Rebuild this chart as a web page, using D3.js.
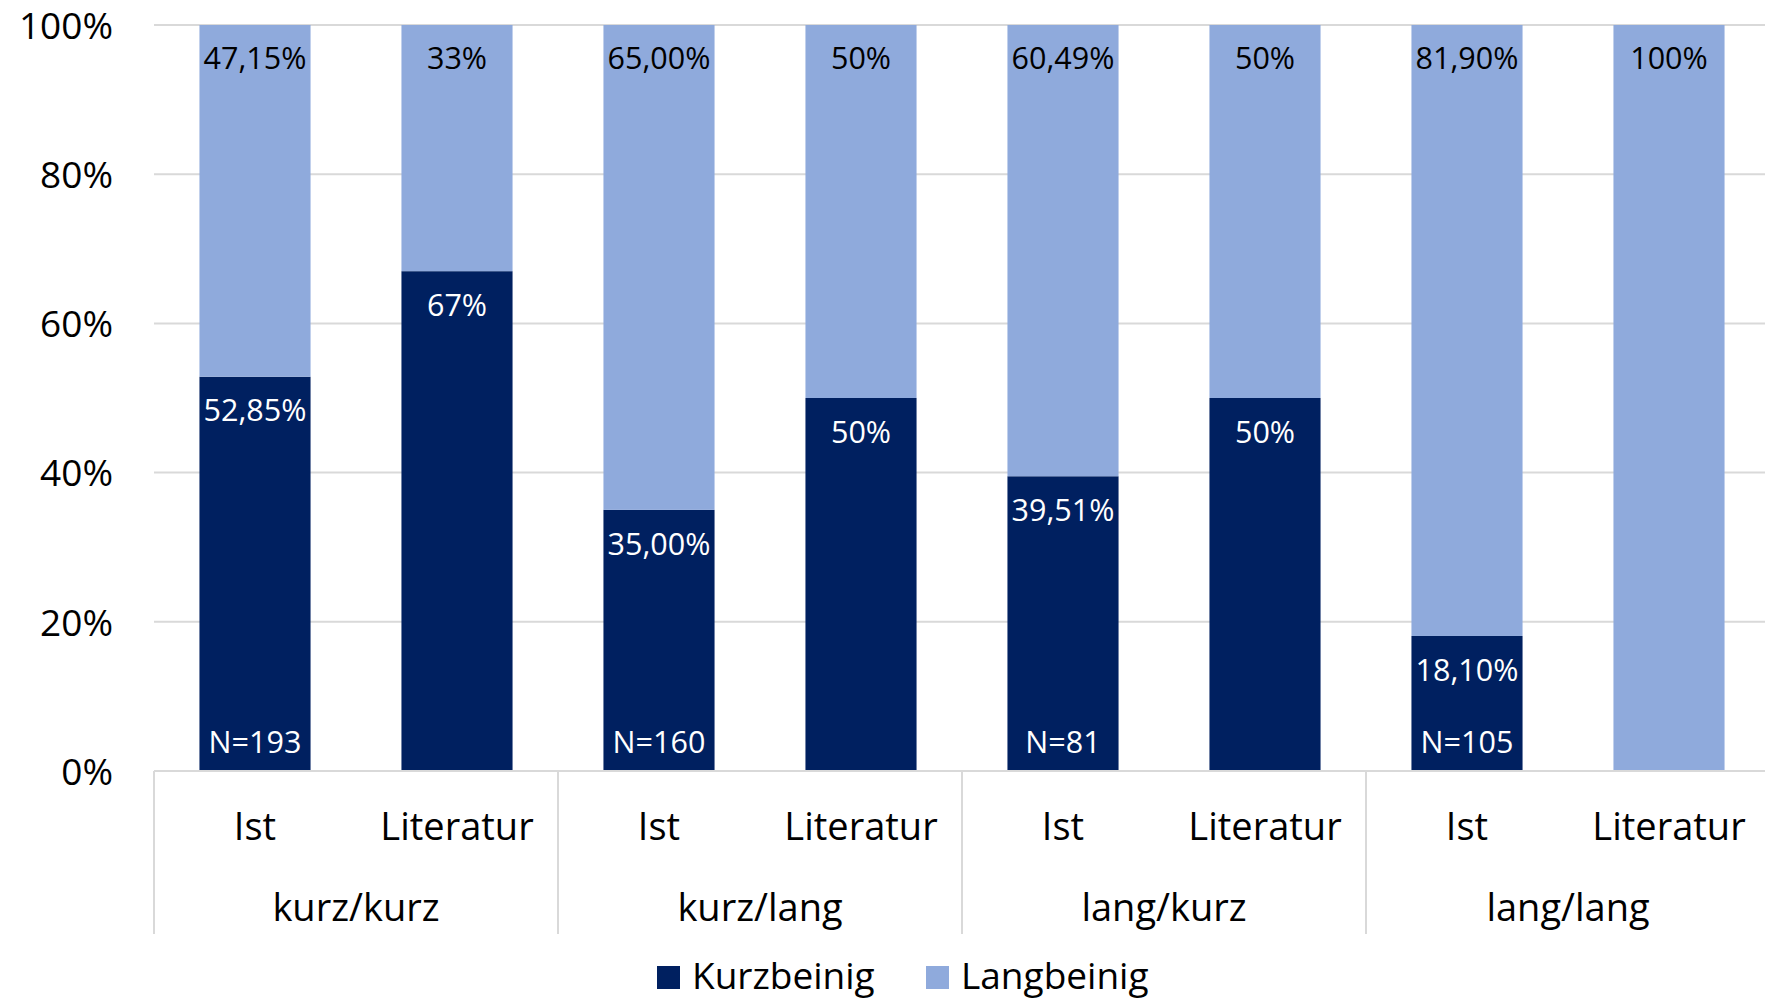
<!DOCTYPE html>
<html>
<head>
<meta charset="utf-8">
<script src="https://cdn.jsdelivr.net/npm/d3@7"></script>
<style>
  body { margin: 0; background: #fff; }
  svg { display: block; font-family: "Open Sans", sans-serif; }
</style>
</head>
<body>
<svg width="1765" height="1001"></svg>
<script>
// data
var groups = ["kurz/kurz", "kurz/lang", "lang/kurz", "lang/lang"]
var subs = ["Ist", "Literatur"]
var kurz = [52.85, 67, 35, 50, 39.51, 50, 18.10, 0]
var lang = [47.15, 33, 65, 50, 60.49, 50, 81.90, 100]
var kurzLabels = ["52,85%", "67%", "35,00%", "50%", "39,51%", "50%", "18,10%", ""]
var langLabels = ["47,15%", "33%", "65,00%", "50%", "60,49%", "50%", "81,90%", "100%"]
var nLabels = ["N=193", "", "N=160", "", "N=81", "", "N=105", ""]
var yTicks = [0, 20, 40, 60, 80, 100]

var darkBlue = "#002060"
var lightBlue = "#8faadc"
var gridColor = "#d9d9d9"

var plot = { left: 154, right: 1770, top: 25, bottom: 771 }

var svg = d3.select("svg")

// scales
var x0 = d3.scaleBand().domain(groups).range([plot.left, plot.right])
var x1 = d3.scaleBand().domain(subs).range([0, x0.bandwidth()]).paddingInner(0.45).paddingOuter(0.225)
var y = d3.scaleLinear().domain([0, 100]).range([plot.bottom, plot.top])

// build rows
var rows = []
groups.forEach(function(g, gi) {
    subs.forEach(function(s, si) {
        var i = gi * 2 + si
        rows.push({ g: g, s: s, kurz: kurz[i], lang: lang[i],
            kl: kurzLabels[i], ll: langLabels[i], n: nLabels[i] })
    })
})

// gridlines
svg.append("g")
    .selectAll("line")
    .data(yTicks)
    .enter().append("line")
    .attr("x1", plot.left)
    .attr("x2", plot.right)
    .attr("y1", function(d) { return y(d) })
    .attr("y2", function(d) { return y(d) })
    .attr("stroke", gridColor)
    .attr("stroke-width", 2)

// y axis labels
var yAxis = d3.axisLeft(y)
    .tickValues(yTicks)
    .tickSize(0)
    .tickPadding(0)
    .tickFormat(function(d) { return d + "%" })

var ya = svg.append("g")
    .attr("transform", "translate(113,0)")
    .call(yAxis)
ya.select(".domain").remove()
ya.selectAll("text")
    .attr("font-family", "Open Sans, sans-serif")
    .attr("font-size", 37)
    .attr("dy", "0.36em")
    .attr("fill", "#000")

// bars
var bars = svg.append("g")
    .selectAll("g")
    .data(rows)
    .enter().append("g")
    .attr("transform", function(d) { return "translate(" + (x0(d.g) + x1(d.s)) + ",0)" })

bars.append("rect")
    .attr("x", 0)
    .attr("width", x1.bandwidth())
    .attr("y", function(d) { return y(d.kurz) })
    .attr("height", function(d) { return y(0) - y(d.kurz) })
    .attr("fill", darkBlue)

bars.append("rect")
    .attr("x", 0)
    .attr("width", x1.bandwidth())
    .attr("y", function(d) { return y(d.kurz + d.lang) })
    .attr("height", function(d) { return y(d.kurz) - y(d.kurz + d.lang) })
    .attr("fill", lightBlue)

// labels
var lblSize = 30.5
bars.append("text")
    .attr("x", x1.bandwidth() / 2)
    .attr("y", function(d) { return y(d.kurz + d.lang) + 33 })
    .attr("dy", "0.35em")
    .attr("text-anchor", "middle")
    .attr("font-size", lblSize)
    .attr("fill", "#000")
    .text(function(d) { return d.ll })

bars.append("text")
    .attr("x", x1.bandwidth() / 2)
    .attr("y", function(d) { return y(d.kurz) + 34 })
    .attr("dy", "0.35em")
    .attr("text-anchor", "middle")
    .attr("font-size", lblSize)
    .attr("fill", "#fff")
    .text(function(d) { return d.kl })

bars.append("text")
    .attr("x", x1.bandwidth() / 2)
    .attr("y", y(0) - 29)
    .attr("dy", "0.35em")
    .attr("text-anchor", "middle")
    .attr("font-size", lblSize)
    .attr("fill", "#fff")
    .text(function(d) { return d.n })

// bottom axis line
svg.append("line")
    .attr("x1", plot.left).attr("x2", plot.right)
    .attr("y1", y(0)).attr("y2", y(0))
    .attr("stroke", gridColor).attr("stroke-width", 2)

// group separators
svg.append("g")
    .selectAll("line")
    .data(groups)
    .enter().append("line")
    .attr("x1", function(d) { return x0(d) })
    .attr("x2", function(d) { return x0(d) })
    .attr("y1", y(0))
    .attr("y2", 934)
    .attr("stroke", gridColor)
    .attr("stroke-width", 2)

// sub category labels
svg.append("g")
    .selectAll("text")
    .data(rows)
    .enter().append("text")
    .attr("x", function(d) { return x0(d.g) + x1(d.s) + x1.bandwidth() / 2 })
    .attr("y", 827)
    .attr("dy", "0.35em")
    .attr("text-anchor", "middle")
    .attr("font-size", 38)
    .text(function(d) { return d.s })

// group labels
svg.append("g")
    .selectAll("text")
    .data(groups)
    .enter().append("text")
    .attr("x", function(d) { return x0(d) + x0.bandwidth() / 2 })
    .attr("y", 908)
    .attr("dy", "0.35em")
    .attr("text-anchor", "middle")
    .attr("font-size", 38)
    .text(function(d) { return d })

// legend
var legend = [{ name: "Kurzbeinig", color: darkBlue, x: 657 }, { name: "Langbeinig", color: lightBlue, x: 926 }]
var lg = svg.append("g").selectAll("g").data(legend).enter().append("g")
lg.append("rect")
    .attr("x", function(d) { return d.x })
    .attr("y", 966)
    .attr("width", 23)
    .attr("height", 23)
    .attr("fill", function(d) { return d.color })
lg.append("text")
    .attr("x", function(d) { return d.x + 35 })
    .attr("y", 976)
    .attr("dy", "0.35em")
    .attr("font-size", 37)
    .text(function(d) { return d.name })
</script>
</body>
</html>
